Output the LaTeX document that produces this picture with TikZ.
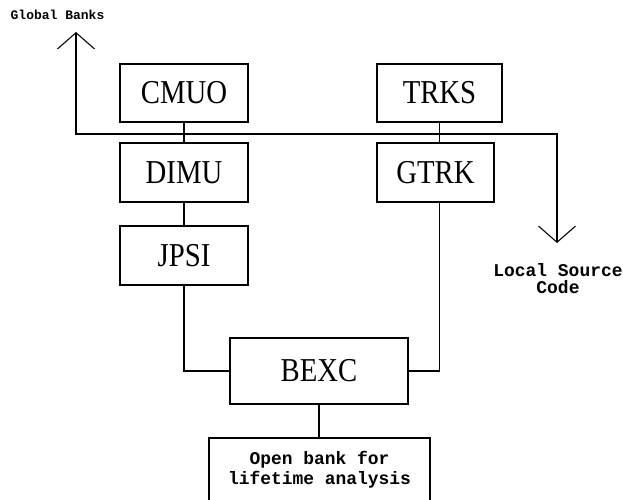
\documentclass[tikz,border=0pt]{standalone}
\usepackage{fontspec}
\setmainfont{Liberation Serif}
\newfontfamily\typefont{Liberation Mono}
\usetikzlibrary{arrows.meta}

\tikzset{
    bank/.style={draw, line width=0.45pt, inner sep=0pt, font=\fontsize{9.5}{11}\selectfont},
    note/.style={font=\typefont\bfseries\fontsize{5.1}{4.8}\selectfont, align=center, inner sep=0pt},
    link/.style={line width=0.3pt},
}
\newcommand{\banklabel}[1]{\scalebox{0.86}[1]{#1}}

\begin{document}
\begin{tikzpicture}[x=0.01cm,y=-0.01cm,>={Straight Barb[length=4.6pt,width=10.5pt]}]
    \clip (0,0) rectangle (623,500);

    % banks
    \node[bank, minimum width=1.28cm, minimum height=0.58cm] (cmuo) at (184,93) {\banklabel{CMUO}};
    \node[bank, minimum width=1.28cm, minimum height=0.59cm] (dimu) at (184,172.5) {\banklabel{DIMU}};
    \node[bank, minimum width=1.28cm, minimum height=0.59cm] (jpsi) at (184,255.5) {\banklabel{JPSI}};
    \node[bank, minimum width=1.25cm, minimum height=0.58cm] (trks) at (439.5,93) {\banklabel{TRKS}};
    \node[bank, minimum width=1.17cm, minimum height=0.59cm] (gtrk) at (435.5,172.5) {\banklabel{GTRK}};
    \node[bank, minimum width=1.78cm, minimum height=0.66cm] (bexc) at (319,371) {\banklabel{BEXC}};
    \node[note, draw, line width=0.45pt, anchor=north, minimum width=2.21cm, inner ysep=3.8pt, text depth=9pt] (open) at (319.5,437)
        {Open bank for\\lifetime analysis};

    \draw[link] (cmuo) -- (dimu);
    \draw[link] (dimu) -- (jpsi);
    \draw[link] (jpsi.south) |- (bexc.west);
    \draw[link] (trks) -- (trks.south |- gtrk.north);
    \draw[link] (trks.south |- gtrk.south) |- (bexc.east);
    \draw[link] (bexc.south) -- (bexc.south |- open.north);

    % global / local split
    \coordinate (glob) at (76,32);
    \coordinate (busL) at (76,134);
    \coordinate (busR) at (557,134);
    \coordinate (loc) at (557,243);
    \draw[link,<->] (glob) -- (busL) -- (busR) -- (loc);

    \node[note, font=\typefont\bfseries\fontsize{3.7}{4.4}\selectfont] (globlbl) at (57.5,15) {Global Banks};
    \node[note] (loclbl) at (558,278.5) {Local Source\\Code};
\end{tikzpicture}
\end{document}
